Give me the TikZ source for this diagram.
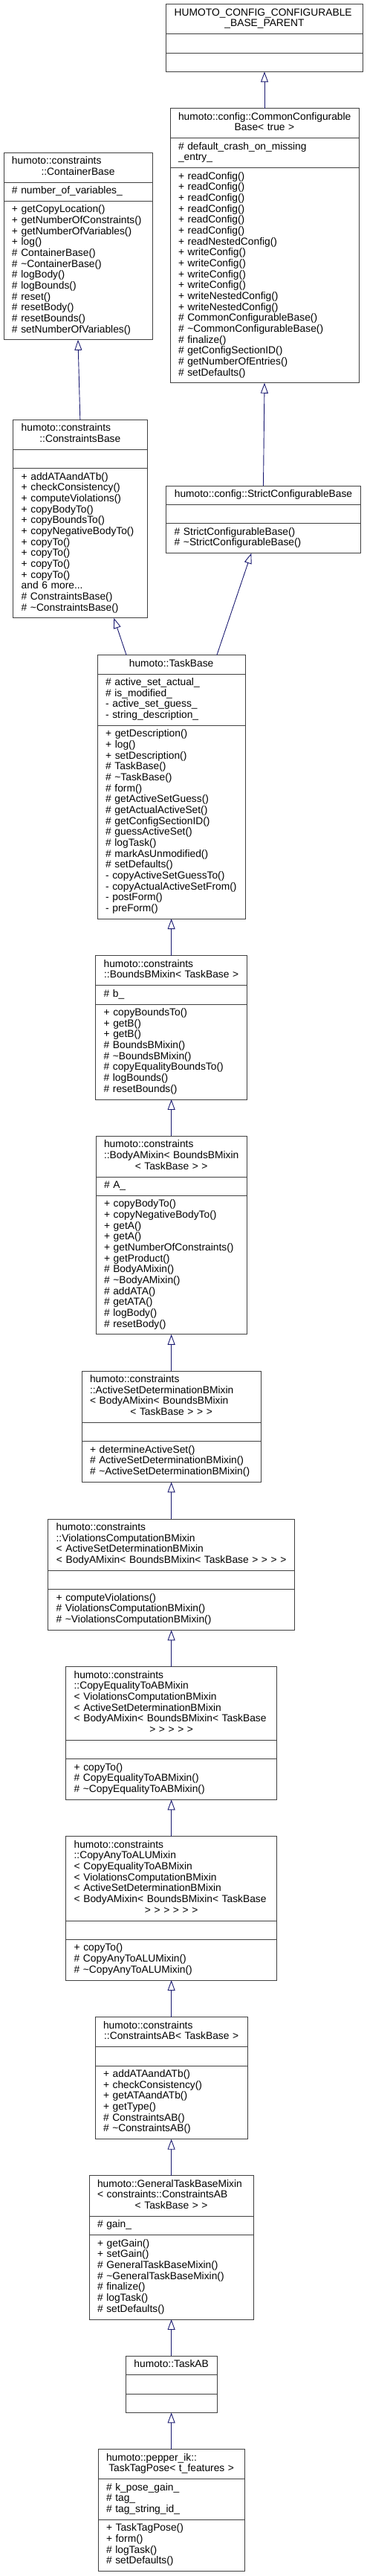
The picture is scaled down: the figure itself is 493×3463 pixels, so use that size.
\documentclass[tikz,border=0pt]{standalone}
\usepackage{fontspec}
\setmainfont{Liberation Sans}
\usepackage{xcolor}
\usepackage{tikz}
\usetikzlibrary{arrows.meta,positioning}
\definecolor{edgeblue}{HTML}{191970}
\definecolor{boxline}{HTML}{404040}
\definecolor{undocline}{HTML}{BFBFBF}
\definecolor{thisfill}{HTML}{BFBFBF}
\newcommand{\umlfont}{\fontsize{13.8}{14.65}\selectfont}
\newcommand{\lft}[1]{\makebox[\hsize][l]{#1}}

\begin{document}
\begin{tikzpicture}[x=1pt, y=-1pt,
    classpart/.style={draw=boxline, line width=0.9pt, fill=white, outer sep=0pt,
        inner xsep=11pt, inner ysep=5.35pt, font=\umlfont, align=left,
        execute at begin node=\strut, execute at end node=\strut},
    classname/.style={classpart, align=center, anchor=north},
    inheritarrow/.style={draw=edgeblue, line width=0.9pt,
        -{Triangle[open, length=14pt, width=10pt]}}]
    \useasboundingbox (0,0) rectangle (493,3463);

    % undocumented parent
    \begin{scope}[every node/.append style={text width=242.6pt, draw=undocline}]
        \node[classname] (cfgparent) at (356,5.7) {\lft{HUMOTO\_CONFIG\_CONFIGURABLE}\\\_BASE\_PARENT};
        \node[classpart, below=0pt of cfgparent] (cfgparent-a) {};
        \node[classpart, below=0pt of cfgparent-a] (cfgparent-m) {};
    \end{scope}

    % CommonConfigurableBase
    \begin{scope}[every node/.append style={text width=232pt}]
        \node[classname] (common) at (356,145.7) {\lft{humoto::config::CommonConfigurable}\\Base< true >};
        \node[classpart, below=0pt of common] (common-a) {\#~default\_crash\_on\_missing\\\_entry\_};
        \node[classpart, below=0pt of common-a] (common-m) {+~readConfig()\\+~readConfig()\\+~readConfig()\\+~readConfig()\\+~readConfig()\\+~readConfig()\\+~readNestedConfig()\\+~writeConfig()\\+~writeConfig()\\+~writeConfig()\\+~writeConfig()\\+~writeNestedConfig()\\+~writeNestedConfig()\\\#~CommonConfigurableBase()\\\#~\textasciitilde CommonConfigurableBase()\\\#~finalize()\\\#~getConfigSectionID()\\\#~getNumberOfEntries()\\\#~setDefaults()};
    \end{scope}

    % ContainerBase
    \begin{scope}[every node/.append style={text width=178pt}]
        \node[classname] (container) at (105,205) {\lft{humoto::constraints}\\::ContainerBase};
        \node[classpart, below=0pt of container] (container-a) {\#~number\_of\_variables\_};
        \node[classpart, below=0pt of container-a] (container-m) {+~getCopyLocation()\\+~getNumberOfConstraints()\\+~getNumberOfVariables()\\+~log()\\\#~ContainerBase()\\\#~\textasciitilde ContainerBase()\\\#~logBody()\\\#~logBounds()\\\#~reset()\\\#~resetBody()\\\#~resetBounds()\\\#~setNumberOfVariables()};
    \end{scope}

    % ConstraintsBase
    \begin{scope}[every node/.append style={text width=158.3pt}]
        \node[classname] (cbase) at (107.85,564.3) {\lft{humoto::constraints}\\::ConstraintsBase};
        \node[classpart, below=0pt of cbase] (cbase-a) {};
        \node[classpart, below=0pt of cbase-a] (cbase-m) {+~addATAandATb()\\+~checkConsistency()\\+~computeViolations()\\+~copyBodyTo()\\+~copyBoundsTo()\\+~copyNegativeBodyTo()\\+~copyTo()\\+~copyTo()\\+~copyTo()\\+~copyTo()\\and~6~more...\\\#~ConstraintsBase()\\\#~\textasciitilde ConstraintsBase()};
    \end{scope}

    % StrictConfigurableBase
    \begin{scope}[every node/.append style={text width=239.6pt}]
        \node[classname] (strict) at (354.5,653) {humoto::config::StrictConfigurableBase};
        \node[classpart, below=0pt of strict] (strict-a) {};
        \node[classpart, below=0pt of strict-a] (strict-m) {\#~StrictConfigurableBase()\\\#~\textasciitilde StrictConfigurableBase()};
    \end{scope}

    % TaskBase
    \begin{scope}[every node/.append style={text width=177pt}]
        \node[classname] (taskbase) at (230.65,880.7) {humoto::TaskBase};
        \node[classpart, below=0pt of taskbase] (taskbase-a) {\#~active\_set\_actual\_\\\#~is\_modified\_\\-~active\_set\_guess\_\\-~string\_description\_};
        \node[classpart, below=0pt of taskbase-a] (taskbase-m) {+~getDescription()\\+~log()\\+~setDescription()\\\#~TaskBase()\\\#~\textasciitilde TaskBase()\\\#~form()\\\#~getActiveSetGuess()\\\#~getActualActiveSet()\\\#~getConfigSectionID()\\\#~guessActiveSet()\\\#~logTask()\\\#~markAsUnmodified()\\\#~setDefaults()\\-~copyActiveSetGuessTo()\\-~copyActualActiveSetFrom()\\-~postForm()\\-~preForm()};
    \end{scope}

    % BoundsBMixin
    \begin{scope}[every node/.append style={text width=182pt}]
        \node[classname] (boundsb) at (230.65,1284.7) {\lft{humoto::constraints}\\\mbox{::BoundsBMixin< TaskBase >}};
        \node[classpart, below=0pt of boundsb] (boundsb-a) {\#~b\_};
        \node[classpart, below=0pt of boundsb-a] (boundsb-m) {+~copyBoundsTo()\\+~getB()\\+~getB()\\\#~BoundsBMixin()\\\#~\textasciitilde BoundsBMixin()\\\#~copyEqualityBoundsTo()\\\#~logBounds()\\\#~resetBounds()};
    \end{scope}

    % BodyAMixin
    \begin{scope}[every node/.append style={text width=181.3pt}]
        \node[classname] (bodya) at (230.65,1527.3) {\lft{humoto::constraints}\\\lft{::BodyAMixin< BoundsBMixin}\\< TaskBase > >};
        \node[classpart, below=0pt of bodya] (bodya-a) {\#~A\_};
        \node[classpart, below=0pt of bodya-a] (bodya-m) {+~copyBodyTo()\\+~copyNegativeBodyTo()\\+~getA()\\+~getA()\\+~getNumberOfConstraints()\\+~getProduct()\\\#~BodyAMixin()\\\#~\textasciitilde BodyAMixin()\\\#~addATA()\\\#~getATA()\\\#~logBody()\\\#~resetBody()};
    \end{scope}

    % ActiveSetDeterminationBMixin
    \begin{scope}[every node/.append style={text width=219.3pt}]
        \node[classname] (activeset) at (230.65,1843) {\lft{humoto::constraints}\\\lft{::ActiveSetDeterminationBMixin}\\\lft{< BodyAMixin< BoundsBMixin}\\< TaskBase > > >};
        \node[classpart, below=0pt of activeset] (activeset-a) {};
        \node[classpart, below=0pt of activeset-a] (activeset-m) {+~determineActiveSet()\\\#~ActiveSetDeterminationBMixin()\\\#~\textasciitilde ActiveSetDeterminationBMixin()};
    \end{scope}

    % ViolationsComputationBMixin
    \begin{scope}[every node/.append style={text width=310pt}]
        \node[classname] (violations) at (230.65,2042) {\lft{humoto::constraints}\\\lft{::ViolationsComputationBMixin}\\\lft{< ActiveSetDeterminationBMixin}\\\mbox{< BodyAMixin< BoundsBMixin< TaskBase > > > >}};
        \node[classpart, below=0pt of violations] (violations-a) {};
        \node[classpart, below=0pt of violations-a] (violations-m) {+~computeViolations()\\\#~ViolationsComputationBMixin()\\\#~\textasciitilde ViolationsComputationBMixin()};
    \end{scope}

    % CopyEqualityToABMixin
    \begin{scope}[every node/.append style={text width=262pt}]
        \node[classname] (copyeq) at (230.65,2240.7) {\lft{humoto::constraints}\\\lft{::CopyEqualityToABMixin}\\\lft{< ViolationsComputationBMixin}\\\lft{< ActiveSetDeterminationBMixin}\\\lft{< BodyAMixin< BoundsBMixin< TaskBase}\\> > > > >};
        \node[classpart, below=0pt of copyeq] (copyeq-a) {};
        \node[classpart, below=0pt of copyeq-a] (copyeq-m) {+~copyTo()\\\#~CopyEqualityToABMixin()\\\#~\textasciitilde CopyEqualityToABMixin()};
    \end{scope}

    % CopyAnyToALUMixin
    \begin{scope}[every node/.append style={text width=262pt}]
        \node[classname] (copyany) at (230.65,2468.7) {\lft{humoto::constraints}\\\lft{::CopyAnyToALUMixin}\\\lft{< CopyEqualityToABMixin}\\\lft{< ViolationsComputationBMixin}\\\lft{< ActiveSetDeterminationBMixin}\\\lft{< BodyAMixin< BoundsBMixin< TaskBase}\\> > > > > >};
        \node[classpart, below=0pt of copyany] (copyany-a) {};
        \node[classpart, below=0pt of copyany-a] (copyany-m) {+~copyTo()\\\#~CopyAnyToALUMixin()\\\#~\textasciitilde CopyAnyToALUMixin()};
    \end{scope}

    % ConstraintsAB
    \begin{scope}[every node/.append style={text width=183.3pt}]
        \node[classname] (cab) at (230.65,2711.7) {\lft{humoto::constraints}\\\mbox{::ConstraintsAB< TaskBase >}};
        \node[classpart, below=0pt of cab] (cab-a) {};
        \node[classpart, below=0pt of cab-a] (cab-m) {+~addATAandATb()\\+~checkConsistency()\\+~getATAandATb()\\+~getType()\\\#~ConstraintsAB()\\\#~\textasciitilde ConstraintsAB()};
    \end{scope}

    % GeneralTaskBaseMixin
    \begin{scope}[every node/.append style={text width=199.3pt}]
        \node[classname] (general) at (230.65,2924.7) {\lft{humoto::GeneralTaskBaseMixin}\\\lft{< constraints::ConstraintsAB}\\< TaskBase > >};
        \node[classpart, below=0pt of general] (general-a) {\#~gain\_};
        \node[classpart, below=0pt of general-a] (general-m) {+~getGain()\\+~setGain()\\\#~GeneralTaskBaseMixin()\\\#~\textasciitilde GeneralTaskBaseMixin()\\\#~finalize()\\\#~logTask()\\\#~setDefaults()};
    \end{scope}

    % TaskAB
    \begin{scope}[every node/.append style={text width=100.7pt}]
        \node[classname] (taskab) at (230.65,3167.3) {humoto::TaskAB};
        \node[classpart, below=0pt of taskab] (taskab-a) {};
        \node[classpart, below=0pt of taskab-a] (taskab-m) {};
    \end{scope}

    % TaskTagPose (this class)
    \begin{scope}[every node/.append style={text width=175.3pt, fill=thisfill}]
        \node[classname] (tagpose) at (230.65,3292.7) {\lft{humoto::pepper\_ik::}\\\mbox{TaskTagPose< t\_features >}};
        \node[classpart, below=0pt of tagpose] (tagpose-a) {\#~k\_pose\_gain\_\\\#~tag\_\\\#~tag\_string\_id\_};
        \node[classpart, below=0pt of tagpose-a] (tagpose-m) {+~TaskTagPose()\\+~form()\\\#~logTask()\\\#~setDefaults()};
    \end{scope}

    % Inheritance
    \draw[inheritarrow] (common.north) -- (cfgparent-m.south);
    \draw[inheritarrow] (strict.north) -- (common-m.south);
    \draw[inheritarrow] (cbase.north) -- (container-m.south);
    \draw[inheritarrow] ([xshift=39pt]taskbase.north west) -- ([xshift=135.6pt]cbase-m.south west);
    \draw[inheritarrow] ([xshift=160.7pt]taskbase.north west) -- ([xshift=114.6pt]strict-m.south west);
    \draw[inheritarrow] (boundsb.north) -- (taskbase-m.south);
    \draw[inheritarrow] (bodya.north) -- (boundsb-m.south);
    \draw[inheritarrow] (activeset.north) -- (bodya-m.south);
    \draw[inheritarrow] (violations.north) -- (activeset-m.south);
    \draw[inheritarrow] (copyeq.north) -- (violations-m.south);
    \draw[inheritarrow] (copyany.north) -- (copyeq-m.south);
    \draw[inheritarrow] (cab.north) -- (copyany-m.south);
    \draw[inheritarrow] (general.north) -- (cab-m.south);
    \draw[inheritarrow] (taskab.north) -- (general-m.south);
    \draw[inheritarrow] (tagpose.north) -- (taskab-m.south);
\end{tikzpicture}
\end{document}
